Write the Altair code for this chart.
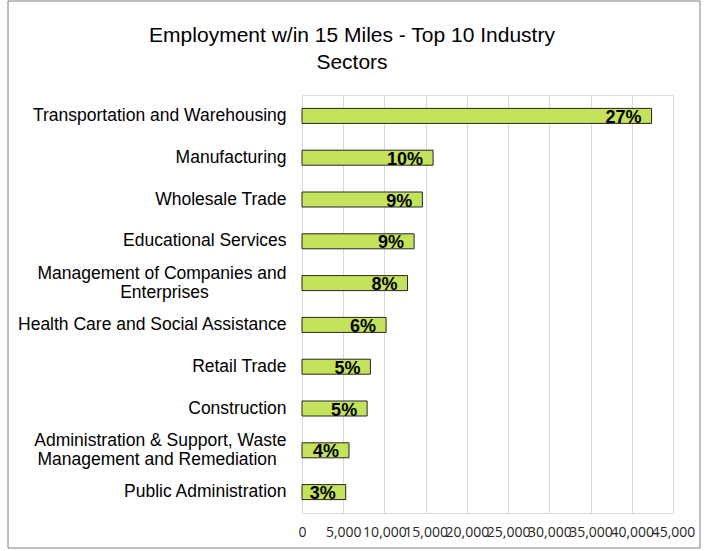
import altair as alt
import pandas as pd

NB = "\u00a0"
ZW = "\u200b"
categories = [
    "Transportation and Warehousing",
    "Manufacturing",
    "Wholesale Trade",
    "Educational Services",
    "Management of Companies and|Enterprises" + NB * 16 + ZW,
    "Health Care and Social Assistance",
    "Retail Trade",
    "Construction",
    "Administration & Support, Waste|Management and Remediation" + NB * 2 + ZW,
    "Public Administration",
]
values = [42400, 15900, 14600, 13600, 12800, 10200, 8300, 7900, 5700, 5300]
pct_labels = ["27%", "10%", "9%", "9%", "8%", "6%", "5%", "5%", "4%", "3%"]
tick_values = [0, 5000, 10000, 15000, 20000, 25000, 30000, 35000, 40000, 45000]

df = pd.DataFrame({"sector": categories, "jobs": values, "pct": pct_labels})

PL, PT, W, H = 302, 95, 371, 418

x_enc = alt.X(
    "jobs:Q",
    scale=alt.Scale(domain=[0, 45000], nice=False),
    axis=alt.Axis(
        values=tick_values, format=",d", title=None, grid=True, gridColor="#d9d9d9",
        domain=False, ticks=False, labelOverlap=False, labelFlush=False,
        labelFont="Open Sans", labelFontSize=14, labelColor="#262626", labelPadding=12,
    ),
)
y_enc = alt.Y(
    "sector:N",
    sort=categories,
    axis=alt.Axis(
        title=None, domain=False, ticks=False, labelPadding=16,
        labelFont="Liberation Sans", labelFontSize=17.5, labelColor="#000000",
        labelExpr="split(datum.label, '|')", labelLineHeight=19, labelLimit=400,
        labelOffset=alt.condition("indexof(datum.label, '|') >= 0", alt.value(-9), alt.value(0)),
    ),
)

base = alt.Chart(df)
bars = base.mark_bar(size=15, color="#C4E25C", stroke="#262626", strokeWidth=1).encode(
    x=x_enc, y=y_enc
)
texts = base.mark_text(
    align="right", baseline="alphabetic", dx=-10, dy=7,
    font="Liberation Sans", fontWeight="bold", fontSize=18, color="#000000",
).encode(x="jobs:Q", y=alt.Y("sector:N", sort=categories), text="pct:N")

frame = alt.Chart(pd.DataFrame({"a": [0]})).mark_rect(
    fill=None, stroke="#7f7f7f", strokeWidth=1
).encode(
    x=alt.value(8 - PL), x2=alt.value(700 - PL),
    y=alt.value(1 - PT), y2=alt.value(548 - PT),
)

chart = alt.layer(bars, texts, frame).properties(
    width=W, height=H,
    autosize=alt.AutoSizeParams(type="none"),
    padding={"left": PL, "top": PT, "right": 704 - PL - W, "bottom": 551 - PT - H},
    title=alt.TitleParams(
        text=["Employment w/in 15 Miles - Top 10 Industry", "Sectors"],
        font="Liberation Sans", fontSize=21, fontWeight="normal", color="#000000",
        anchor="middle", frame="group", dx=352 - (PL + W / 2), offset=0, dy=72,
        lineHeight=27,
    ),
).configure_view(stroke=None).configure(background="#ffffff")

chart.save("out.html", embed_options={"renderer": "svg", "actions": False})
